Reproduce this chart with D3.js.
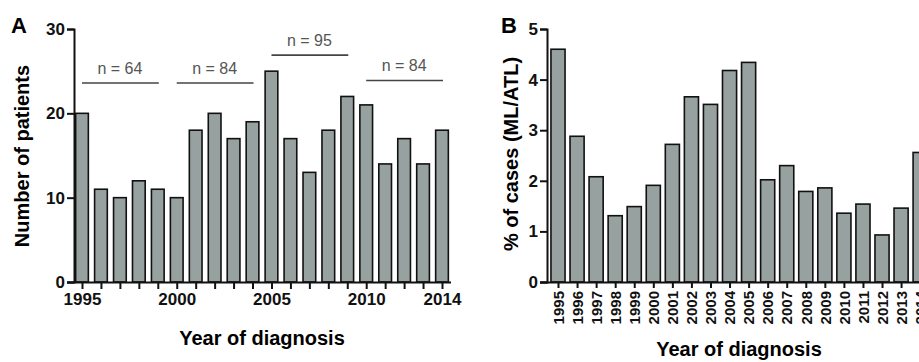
<!DOCTYPE html>
<html>
<head>
<meta charset="utf-8">
<script src="https://cdn.jsdelivr.net/npm/d3@7"></script>
<style>
  body { margin: 0; background: #fff; }
  text { font-family: "Liberation Sans", Arial, sans-serif; }
</style>
</head>
<body>
<div id="plot"></div>
<script>
// data
var years = d3.range(1995, 2015);
var patients = [20, 11, 10, 12, 11, 10, 18, 20, 17, 19, 25, 17, 13, 18, 22, 21, 14, 17, 14, 18];
var percentCases = [4.6, 2.88, 2.08, 1.31, 1.49, 1.91, 2.72, 3.66, 3.51, 4.18, 4.34, 2.02, 2.3, 1.79, 1.86, 1.36, 1.54, 0.93, 1.46, 2.56];
var groupFrom = [1995, 2000, 2005, 2010];
var groupTo = [1999, 2004, 2009, 2014];
var groupN = ["n = 64", "n = 84", "n = 95", "n = 84"];
var groupLevel = [23.6, 23.6, 26.9, 23.9]; // in patients units
var ticksA = [1995, 2000, 2005, 2010, 2014];

var width = 919, height = 362;
var barFill = "#97a2a0";

var svg = d3.select("#plot").append("svg")
    .attr("width", width)
    .attr("height", height);

// ---------- panel A ----------
var xA = d3.scalePoint().domain(years).range([82, 442]);
var yA = d3.scaleLinear().domain([0, 30]).range([282, 29]);
var bwA = xA.step() * 0.67;

var gA = svg.append("g");

gA.selectAll("rect.bar")
  .data(years)
  .enter().append("rect")
    .attr("class", "bar")
    .attr("x", function(d) { return xA(d) - bwA / 2; })
    .attr("y", function(d, i) { return yA(patients[i]); })
    .attr("width", bwA)
    .attr("height", function(d, i) { return yA(0) - yA(patients[i]); })
    .style("fill", barFill)
    .style("stroke", "#111")
    .style("stroke-width", 1.6);

// y axis
var yAxisA = gA.append("g")
    .attr("transform", "translate(74,0)")
    .call(d3.axisLeft(yA).tickValues([0, 10, 20, 30]).tickSize(7).tickPadding(2));
// x axis
var xAxisA = gA.append("g")
    .attr("transform", "translate(0,282)")
    .call(d3.axisBottom(xA).tickValues(years).tickSize(7).tickPadding(4)
      .tickFormat(function(d) { return ticksA.indexOf(d) >= 0 ? d : ""; }));
xAxisA.select(".domain").attr("d", "M67,0.5H451");

[yAxisA, xAxisA].forEach(function(ax) {
  ax.select(".domain").style("stroke", "#111").style("stroke-width", 2);
  ax.selectAll(".tick line").style("stroke", "#111").style("stroke-width", 2);
  ax.selectAll("text")
    .style("font-size", "17px")
    .style("font-weight", "bold")
    .style("fill", "#111");
});

// group annotations
groupFrom.forEach(function(f, i) {
  var y0 = yA(groupLevel[i]);
  gA.append("line")
    .attr("x1", xA(f)).attr("x2", xA(groupTo[i]) + 1)
    .attr("y1", y0).attr("y2", y0)
    .style("stroke", "#444")
    .style("stroke-width", 1.6);
  gA.append("text")
    .attr("x", (xA(f) + xA(groupTo[i])) / 2)
    .attr("y", y0 - 9)
    .attr("text-anchor", "middle")
    .style("font-size", "16px")
    .style("fill", "#555")
    .text(groupN[i]);
});

gA.append("text")
    .attr("x", 11).attr("y", 33)
    .style("font-size", "22px").style("font-weight", "bold")
    .text("A");
gA.append("text")
    .attr("transform", "translate(29,156) rotate(-90)")
    .attr("text-anchor", "middle")
    .style("font-size", "20px").style("font-weight", "bold")
    .text("Number of patients");
gA.append("text")
    .attr("x", 262).attr("y", 345)
    .attr("text-anchor", "middle")
    .style("font-size", "20px").style("font-weight", "bold")
    .text("Year of diagnosis");

// ---------- panel B ----------
var xB = d3.scalePoint().domain(years).range([558, 558 + 19 * 19.06]);
var yB = d3.scaleLinear().domain([0, 5]).range([282, 29]);
var bwB = xB.step() * 0.74;

var gB = svg.append("g");

gB.selectAll("rect.bar")
  .data(years)
  .enter().append("rect")
    .attr("class", "bar")
    .attr("x", function(d) { return xB(d) - bwB / 2; })
    .attr("y", function(d, i) { return yB(percentCases[i]); })
    .attr("width", bwB)
    .attr("height", function(d, i) { return yB(0) - yB(percentCases[i]); })
    .style("fill", barFill)
    .style("stroke", "#111")
    .style("stroke-width", 1.6);

var yAxisB = gB.append("g")
    .attr("transform", "translate(547,0)")
    .call(d3.axisLeft(yB).ticks(5).tickSize(7).tickPadding(2));
var xAxisB = gB.append("g")
    .attr("transform", "translate(0,282)")
    .call(d3.axisBottom(xB).tickValues(years).tickSize(6).tickPadding(2));
xAxisB.select(".domain").attr("d", "M540,0.5H930");
xAxisB.selectAll(".tick text")
    .attr("transform", "rotate(-90)")
    .attr("text-anchor", "end")
    .attr("x", -9)
    .attr("y", 0)
    .attr("dy", "0.35em");

[yAxisB, xAxisB].forEach(function(ax) {
  ax.select(".domain").style("stroke", "#111").style("stroke-width", 2);
  ax.selectAll(".tick line").style("stroke", "#111").style("stroke-width", 2);
  ax.selectAll("text")
    .style("font-size", "17px")
    .style("font-weight", "bold")
    .style("fill", "#111");
});
xAxisB.selectAll("text").style("font-size", "15px");

gB.append("text")
    .attr("x", 501).attr("y", 33)
    .style("font-size", "22px").style("font-weight", "bold")
    .text("B");
gB.append("text")
    .attr("transform", "translate(518,154) rotate(-90)")
    .attr("text-anchor", "middle")
    .style("font-size", "20px").style("font-weight", "bold")
    .text("% of cases (ML/ATL)");
gB.append("text")
    .attr("x", 739).attr("y", 356)
    .attr("text-anchor", "middle")
    .style("font-size", "20px").style("font-weight", "bold")
    .text("Year of diagnosis");
</script>
</body>
</html>
